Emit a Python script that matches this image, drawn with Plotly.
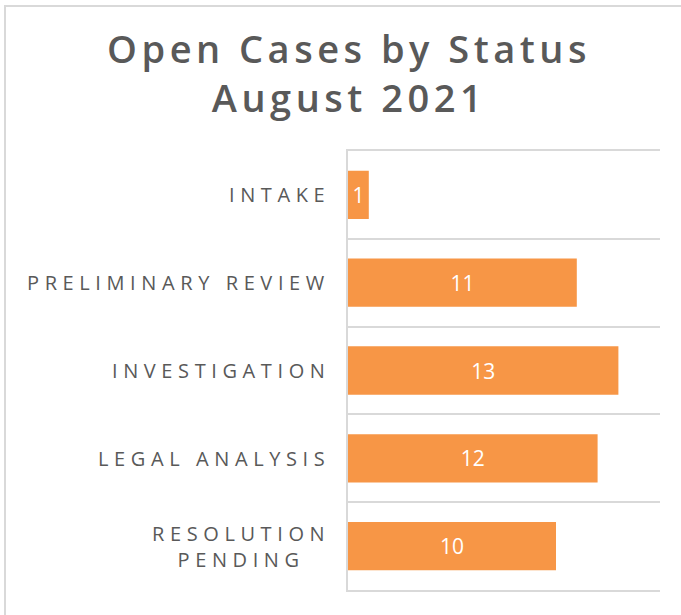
import plotly.graph_objects as go

categories = ["INTAKE", "PRELIMINARY REVIEW", "INVESTIGATION", "LEGAL ANALYSIS", "RESOLUTION<br>PENDING"]
values = [1, 11, 13, 12, 10]
title_lines = ["Open Cases by Status", "August 2021"]

FONT = "Open Sans"
GREY = "#595959"
LINE = "#d9d9d9"
ORANGE = "#F79646"

def spaced(txt, px):
    return "<br>".join(f'<span style="letter-spacing:{px}px">{t}</span>' for t in txt.split("<br>"))

W, H = 681, 615
L, R, T, B = 348, 21, 151, 25
pw, ph = W - L - R, H - T - B

fig = go.Figure(go.Bar(
    x=values, y=categories, orientation="h",
    marker=dict(color=ORANGE, line=dict(width=0)),
    text=[str(v) for v in values], textposition="inside", insidetextanchor="middle",
    textfont=dict(family=FONT, size=21, color="white"),
    constraintext="none", cliponaxis=False, width=0.55,
))

annotations = []
for c in categories:
    annotations.append(dict(
        x=0, xref="paper", y=c, yref="y", xanchor="right", yanchor="middle",
        xshift=-16.5, text=spaced(c, 5.6), showarrow=False, align="center",
        font=dict(family=FONT, size=20, color=GREY),
    ))

fig.update_layout(
    width=W, height=H,
    margin=dict(l=L, r=R, t=T, b=B, pad=0),
    paper_bgcolor="white", plot_bgcolor="white",
    showlegend=False,
    title=dict(
        text=spaced("<br>".join(title_lines), 4.5),
        x=349 / W, xref="container", xanchor="center",
        y=(H - 63) / H, yref="container", yanchor="top",
        font=dict(family=FONT, size=38, color=GREY, weight=600),
    ),
    xaxis=dict(range=[0, 15], showgrid=False, zeroline=False, showticklabels=False,
               ticks="", showline=True, mirror=True, linecolor=LINE, linewidth=2),
    yaxis=dict(type="category", categoryorder="array", categoryarray=categories,
               autorange="reversed", tickson="boundaries", showgrid=True,
               gridcolor=LINE, gridwidth=2, showticklabels=False, ticks="",
               showline=True, linecolor=LINE, linewidth=2, zeroline=False),
    annotations=annotations,
    shapes=[dict(type="rect", xref="paper", yref="paper",
                 x0=(5 - L) / pw, x1=(W + 20 - L) / pw,
                 y0=-(B + 20) / ph, y1=1 + (T - 6) / ph,
                 line=dict(color=LINE, width=2), fillcolor="rgba(0,0,0,0)", layer="below")],
)

fig.write_html("out.html", config={"displayModeBar": False},
               post_script="document.body.style.margin='0';")
